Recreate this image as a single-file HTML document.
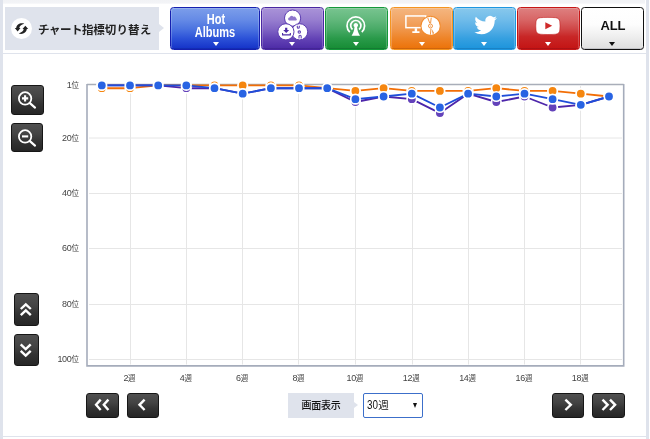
<!DOCTYPE html>
<html lang="ja">
<head>
<meta charset="utf-8">
<title>チャート指標切り替え</title>
<style>
*{box-sizing:border-box;margin:0;padding:0}
html,body{width:650px;height:439px;overflow:hidden;background:#fff}
body{position:relative;font-family:"Liberation Sans","Noto Sans CJK JP",sans-serif;color:#222}
.abs{position:absolute}
.edge{background:#dfe3ec}
#topstrip{left:3px;top:0;width:642px;height:4px;background:linear-gradient(#f1f2f5 0,#f3f4f7 75%,#fbfbfc 100%)}
#label{left:5px;top:7px;width:154px;height:43px;background:#dfe3ec}
#label:after{content:"";position:absolute;left:154px;top:16.5px;border-left:5px solid #dfe3ec;border-top:4.5px solid transparent;border-bottom:4.5px solid transparent}
#label .circ{position:absolute;left:6px;top:11px;width:21px;height:21px;border-radius:50%;background:#fff}
#label .txt{position:absolute;left:33px;top:13.5px;font-size:11.5px;font-weight:bold;line-height:18px;white-space:nowrap;color:#222;letter-spacing:-0.1px}
.btn{position:absolute;top:7px;height:43px;border-radius:3.500px;border:1px solid;}
.btn:before{content:"";position:absolute;left:0;top:0;right:0;bottom:0;border-radius:2.500px;border:1px solid rgba(255,255,255,.2);border-bottom-color:rgba(0,0,40,.12)}
.btn .tri{position:absolute;left:50%;margin-left:-3.5px;top:34px;width:0;height:0;border-left:3.5px solid transparent;border-right:3.5px solid transparent;border-top:4.5px solid #fff}
.btn svg{position:absolute;left:-1px;top:-1px}
#b1{left:170px;width:89.5px;border-color:#1520b0;background:linear-gradient(#7c9eea 0,#668be6 28%,#4a72e0 52%,#2c52d8 74%,#1432c8 100%)}
#b2{left:261px;width:63px;border-color:#4a28a2;background:linear-gradient(#a993d8 0,#987fd0 28%,#8064c4 52%,#6444b6 74%,#4c2aa6 100%)}
#b3{left:325px;width:63px;border-color:#14983a;background:linear-gradient(#78c490 0,#62b87c 28%,#48aa66 52%,#2a9a4a 74%,#168c34 100%)}
#b4{left:389.5px;width:63px;border-color:#f59520;background:linear-gradient(#f4b680 0,#f2a666 28%,#f0964a 52%,#ee8428 74%,#ec7208 100%)}
#b5{left:453px;width:63px;border-color:#1e96e0;background:linear-gradient(#88c8ec 0,#70bcea 28%,#56aee6 52%,#36a0e0 74%,#1c94dc 100%)}
#b6{left:517px;width:63px;border-color:#c61616;background:linear-gradient(#de8080 0,#d86666 28%,#d04848 50%,#c82626 70%,#c41414 100%)}
#b7{left:581px;width:63px;border-color:#111;background:linear-gradient(#fff 0,#fdfdfd 40%,#efefef 68%,#dedede 100%)}
#b7 .tri{border-top-color:#111}
#b1 .t{position:absolute;left:0;width:88px;text-align:center;color:#fff;font-weight:bold;font-size:14px;line-height:13px;transform:scaleX(.787);white-space:nowrap}
#b7 .t{position:absolute;left:.3px;width:61px;top:10.200px;letter-spacing:-.2px;text-align:center;color:#111;font-weight:bold;font-size:13px;line-height:15px}
.dk{position:absolute;border-radius:3px;border:1px solid #161616;background:linear-gradient(#505050 0,#434343 38%,#333 64%,#262626 100%)}
.dk svg{position:absolute;left:-1px;top:-1px}
.yl{position:absolute;left:39px;width:40px;text-align:right;font-size:9px;line-height:10px;color:#444;letter-spacing:-.3px;white-space:nowrap}
.yl span,.xl span{font-size:7.500px;letter-spacing:0}
.xl{position:absolute;top:372.800px;width:30px;text-align:center;font-size:9px;line-height:10px;color:#444;letter-spacing:-.3px;white-space:nowrap}
#disp{left:288px;top:393px;width:66px;height:24.5px;background:#dfe3ec;font-size:10px;line-height:26px;text-align:center;color:#111;font-weight:500;letter-spacing:-.2px}
#disp:after{content:"";position:absolute;left:66px;top:8.5px;border-left:4.5px solid #dfe3ec;border-top:3.75px solid transparent;border-bottom:3.75px solid transparent}
#sel{left:363px;top:393px;width:60px;height:24.5px;border:1px solid #3c6fca;border-radius:2px;background:#fff}
#sel .v{position:absolute;left:3.4px;top:2.4px;font-size:13px;line-height:17px;color:#111;transform:scaleX(.76);transform-origin:0 50%;white-space:nowrap}
#sel .k{position:absolute;left:14.2px;top:3px;font-size:10.500px;line-height:17px;color:#111;white-space:nowrap}
#sel .a{position:absolute;left:48.5px;top:9px;width:0;height:0;border-left:2.75px solid transparent;border-right:2.75px solid transparent;border-top:5px solid #111}
</style>
</head>
<body>
<div class="abs edge" style="left:0;top:0;width:3px;height:439px"></div>
<div class="abs edge" style="left:646px;top:0;width:3px;height:439px"></div>
<div class="abs" id="topstrip"></div>
<div class="abs edge" style="left:3px;top:53px;width:643px;height:1px"></div>
<div class="abs edge" style="left:3px;top:436px;width:643px;height:1px"></div>

<div class="abs" id="label">
  <div class="circ"></div>
  <svg class="abs" style="left:6px;top:11px" width="21" height="21" viewBox="0 0 21 21">
    <g fill="#222" transform="translate(10.500,10.600)">
      <path id="ra" d="M-6.700 -.500L-3.850 2.900L-1 -.500L-2.200 -.500C-2.100 -2.400 -.300 -3.900 2.800 -4.900C-1.200 -6.200 -5 -4 -5.300 -.500Z"/>
      <path d="M-6.700 -.500L-3.850 2.900L-1 -.500L-2.200 -.500C-2.100 -2.400 -.300 -3.900 2.800 -4.900C-1.200 -6.200 -5 -4 -5.300 -.500Z" transform="rotate(180)"/>
    </g>
  </svg>
  <div class="txt"><span style="letter-spacing:-.5px">チャート</span>指標<span style="letter-spacing:.2px">切り替え</span></div>
</div>

<div class="btn" id="b1">
  <div class="t" style="top:5.2px;left:.7px">Hot</div>
  <div class="t" style="top:17.85px;left:.3px">Albums</div>
  <div class="tri" style="margin-left:-2px"></div>
</div>
<div class="btn" id="b2"><svg width="63" height="43" viewBox="0 0 63 43">
  <g fill="#fff" stroke="#5a3ab0" stroke-width="1">
    <circle cx="31.600" cy="11.100" r="8.100"/>
    <circle cx="38.600" cy="24.800" r="8.100"/>
    <circle cx="24.900" cy="24.800" r="8.100"/>
  </g>
  <path transform="translate(31.600 13.500) scale(.88) translate(-31.600 -13.400)" d="M27.600 13.400a1.700 1.700 0 0 1 .5-3.300a2.300 2.300 0 0 1 4.200-.9a2 2 0 0 1 3.200 1.600a1.400 1.400 0 0 1 .1 2.600z" fill="#8e76cc"/>
  <path d="M24.100 20.800h2.200v2.200h1.900l-3 2.900l-3-2.900h1.900zM21 26.100h1.100v1.200h6.700v-1.200h1.100v2.400h-8.900z" fill="#4e2ca6"/>
  <g fill="none" stroke="#6242b6" stroke-width="1.100">
    <path d="M36.300 18.800v1.400a1 1 0 0 0 2 0v-1.400"/>
    <circle cx="38.300" cy="25.100" r="1.200"/>
    <path d="M38 31.400v-2a1.100 1.100 0 0 1 2.200 0v2"/>
  </g>
</svg><div class="tri"></div></div>
<div class="btn" id="b3"><svg width="63" height="43" viewBox="0 0 63 43">
  <g fill="none" stroke="#fff" stroke-width="1.700" stroke-linecap="butt">
    <path d="M24.800 25.100A8.800 8.800 0 1 1 36.800 25.100"/>
    <path d="M27.500 22.500A5.100 5.100 0 1 1 34.100 22.500"/>
  </g>
  <path d="M30.800 16a2.250 2.250 0 0 1 1.300 4.100c.2 3.500 1.300 6.100 2.900 8.700h-8.400c1.600-2.600 2.700-5.200 2.900-8.700a2.250 2.250 0 0 1 1.300-4.100z" fill="#fff"/>
</svg><div class="tri"></div></div>
<div class="btn" id="b4"><svg width="63" height="43" viewBox="0 0 63 43">
  <rect x="15.900" y="8.950" width="19.800" height="11.700" fill="none" stroke="#fff" stroke-width="1.500"/>
  <path d="M24.700 21.300h2.400v3h2.400v1.600h-7.200v-1.600h2.400z" fill="#fff"/>
  <circle cx="40.600" cy="18.900" r="9.700" fill="#fff" stroke="#f28a2a" stroke-width="1.100"/>
  <g fill="none" stroke="#ef8a30" stroke-width=".9" stroke-linecap="round">
    <path d="M37.900 11.300L39.700 15.900M41.200 11L40.600 15.900"/>
    <path d="M40.900 22.200L40.400 27.400"/>
  </g>
  <path d="M41.700 22.100L44.200 26.300L42.700 26.900Z" fill="#ef8a30"/>
  <circle cx="40.500" cy="19" r="2" fill="none" stroke="#ef8a30" stroke-width=".9"/>
  <circle cx="40.500" cy="19" r=".6" fill="#ef8a30"/>
</svg><div class="tri" style="margin-left:-2.200px"></div></div>
<div class="btn" id="b5"><svg width="63" height="43" viewBox="0 0 63 43">
  <path transform="translate(21.300 6.720) scale(.946)" fill="#fff" d="M23.953 4.570a10 10 0 0 1-2.825.775a4.958 4.958 0 0 0 2.163-2.723c-.951.555-2.005.959-3.127 1.184a4.920 4.920 0 0 0-8.384 4.482C7.690 8.095 4.067 6.130 1.640 3.162a4.822 4.822 0 0 0-.666 2.475c0 1.710.870 3.213 2.188 4.096a4.904 4.904 0 0 1-2.228-.616v.060a4.923 4.923 0 0 0 3.946 4.827a4.996 4.996 0 0 1-2.212.085a4.936 4.936 0 0 0 4.604 3.417a9.867 9.867 0 0 1-6.102 2.105c-.390 0-.779-.023-1.170-.067a13.995 13.995 0 0 0 7.557 2.209c9.053 0 13.998-7.496 13.998-13.985c0-.210 0-.420-.015-.630A9.935 9.935 0 0 0 24 4.590z"/>
</svg><div class="tri"></div></div>
<div class="btn" id="b6"><svg width="63" height="43" viewBox="0 0 63 43">
  <path d="M23.300 10.700C27 10.300 34.800 10.300 38.500 10.700C41.300 11 42.500 12.200 42.800 14.800C43.100 17.400 43.100 20.500 42.800 23.100C42.500 25.700 41.300 26.900 38.500 27.200C34.800 27.600 27 27.600 23.300 27.200C20.500 26.900 19.300 25.700 19 23.100C18.700 20.500 18.700 17.400 19 14.800C19.300 12.200 20.500 11 23.300 10.700Z" fill="#fff" stroke="#c01818" stroke-opacity=".55" stroke-width="1"/>
  <path d="M28.300 15.300L35.200 18.800L28.300 22.200Z" fill="#cf2a2a"/>
</svg><div class="tri"></div></div>
<div class="btn" id="b7"><div class="t">ALL</div><div class="tri"></div></div>

<!-- side buttons -->
<div class="dk" style="left:11px;top:84.600px;width:32.500px;height:30px"><svg width="32" height="30" viewBox="0 0 32 30"><circle cx="14.100" cy="13.400" r="6.200" fill="none" stroke="#fff" stroke-width="1.800"/><path d="M18.900 18.100L24 22.600" stroke="#fff" stroke-width="2.200" stroke-linecap="round"/><path d="M11 13.4h6.200M14.100 10.300v6.200" stroke="#fff" stroke-width="2.100" fill="none"/></svg></div>
<div class="dk" style="left:11px;top:122.500px;width:32px;height:29.100px"><svg width="32" height="30" viewBox="0 0 32 30"><circle cx="14.100" cy="13.400" r="6.200" fill="none" stroke="#fff" stroke-width="1.800"/><path d="M18.900 18.100L24 22.600" stroke="#fff" stroke-width="2.200" stroke-linecap="round"/><path d="M11 13.400h6.200" stroke="#fff" stroke-width="2.100" fill="none"/></svg></div>
<div class="dk" style="left:14px;top:293px;width:25px;height:33px"><svg width="25" height="33" viewBox="0 0 25 33"><path d="M6.800 16L11.800 11.300L16.800 16M6.800 22.200L11.800 17.500L16.800 22.200" fill="none" stroke="#fff" stroke-width="2.400" stroke-linejoin="miter"/></svg></div>
<div class="dk" style="left:14px;top:334px;width:25px;height:32px"><svg width="25" height="32" viewBox="0 0 25 32"><path d="M6.700 10.400L11.700 15.200L16.700 10.400M6.700 16.800L11.700 21.600L16.700 16.800" fill="none" stroke="#fff" stroke-width="2.400" stroke-linejoin="miter"/></svg></div>
<div class="dk" style="left:86px;top:393px;width:33px;height:24.5px"><svg width="33" height="25" viewBox="0 0 33 25"><path d="M14.7 6.6L10.1 11.8L14.7 17M22.4 6.6L17.8 11.8L22.4 17" fill="none" stroke="#fff" stroke-width="2.400" stroke-linejoin="miter"/></svg></div>
<div class="dk" style="left:127px;top:393px;width:32px;height:24.5px"><svg width="32" height="25" viewBox="0 0 32 25"><path d="M17.6 6.6L12.5 11.8L17.6 17" fill="none" stroke="#fff" stroke-width="2.400" stroke-linejoin="miter"/></svg></div>
<div class="dk" style="left:552px;top:393px;width:32px;height:24.5px"><svg width="32" height="25" viewBox="0 0 32 25"><path d="M13.4 6.6L18.8 11.8L13.4 17" fill="none" stroke="#fff" stroke-width="2.400" stroke-linejoin="miter"/></svg></div>
<div class="dk" style="left:592px;top:393px;width:33px;height:24.5px"><svg width="33" height="25" viewBox="0 0 33 25"><path d="M10.5 6.6L15.6 11.8L10.5 17M18 6.6L23.1 11.8L18 17" fill="none" stroke="#fff" stroke-width="2.400" stroke-linejoin="miter"/></svg></div>

<div class="abs" id="disp">画面表示</div>
<div class="abs" id="sel"><div class="v">30</div><div class="k">週</div><div class="a"></div></div>

<!--CHART-->
<svg class="abs" style="left:0;top:60px" width="650" height="330" viewBox="0 60 650 330">
<path d="M89 138.0H622M89 193.5H622M89 248.5H622M89 304.5H622M89 359.5H622M130.5 86V364.5M186.5 86V364.5M242.5 86V364.5M298.5 86V364.5M355.5 86V364.5M412.5 86V364.5M468.5 86V364.5M524.5 86V364.5M580.5 86V364.5" stroke="#e6e6e6" stroke-width="1" fill="none"/>
<path d="M87 84.5H623.7" stroke="#a9aeb9" stroke-width="1.3" fill="none"/>
<path d="M87 84.0V365.9H623.7V84.0" stroke="#a5acbb" stroke-width="1.6" fill="none"/>
<polyline points="101.8,88.2 130.0,88.2 158.2,85.4 186.3,85.4 214.5,85.4 242.7,85.4 270.9,85.4 299.0,85.4 327.2,88.2 355.4,90.9 383.6,88.2 411.8,90.9 439.9,90.9 468.1,90.9 496.3,88.2 524.5,90.9 552.6,90.9 580.8,93.7 609.0,96.5" fill="none" stroke="#f26e06" stroke-width="1.85" stroke-linejoin="round"/>
<g fill="#f5860f" stroke="#fff" stroke-width="1.7">
<circle cx="101.8" cy="88.2" r="4.75"/>
<circle cx="130.0" cy="88.2" r="4.75"/>
<circle cx="158.2" cy="85.4" r="4.75"/>
<circle cx="186.3" cy="85.4" r="4.75"/>
<circle cx="214.5" cy="85.4" r="4.75"/>
<circle cx="242.7" cy="85.4" r="4.75"/>
<circle cx="270.9" cy="85.4" r="4.75"/>
<circle cx="299.0" cy="85.4" r="4.75"/>
<circle cx="327.2" cy="88.2" r="4.75"/>
<circle cx="355.4" cy="90.9" r="4.75"/>
<circle cx="383.6" cy="88.2" r="4.75"/>
<circle cx="411.8" cy="90.9" r="4.75"/>
<circle cx="439.9" cy="90.9" r="4.75"/>
<circle cx="468.1" cy="90.9" r="4.75"/>
<circle cx="496.3" cy="88.2" r="4.75"/>
<circle cx="524.5" cy="90.9" r="4.75"/>
<circle cx="552.6" cy="90.9" r="4.75"/>
<circle cx="580.8" cy="93.7" r="4.75"/>
<circle cx="609.0" cy="96.5" r="4.75"/>
</g>
<polyline points="101.8,85.4 130.0,85.4 158.2,85.4 186.3,88.2 214.5,88.2 242.7,93.7 270.9,88.2 299.0,88.2 327.2,88.2 355.4,102.0 383.6,96.5 411.8,99.2 439.9,113.1 468.1,93.7 496.3,102.0 524.5,96.5 552.6,107.5 580.8,104.8 609.0,96.5" fill="none" stroke="#4d26aa" stroke-width="1.85" stroke-linejoin="round"/>
<g fill="#6342ba" stroke="#fff" stroke-width="1.7">
<circle cx="101.8" cy="85.4" r="4.75"/>
<circle cx="130.0" cy="85.4" r="4.75"/>
<circle cx="158.2" cy="85.4" r="4.75"/>
<circle cx="186.3" cy="88.2" r="4.75"/>
<circle cx="214.5" cy="88.2" r="4.75"/>
<circle cx="242.7" cy="93.7" r="4.75"/>
<circle cx="270.9" cy="88.2" r="4.75"/>
<circle cx="299.0" cy="88.2" r="4.75"/>
<circle cx="327.2" cy="88.2" r="4.75"/>
<circle cx="355.4" cy="102.0" r="4.75"/>
<circle cx="383.6" cy="96.5" r="4.75"/>
<circle cx="411.8" cy="99.2" r="4.75"/>
<circle cx="439.9" cy="113.1" r="4.75"/>
<circle cx="468.1" cy="93.7" r="4.75"/>
<circle cx="496.3" cy="102.0" r="4.75"/>
<circle cx="524.5" cy="96.5" r="4.75"/>
<circle cx="552.6" cy="107.5" r="4.75"/>
<circle cx="580.8" cy="104.8" r="4.75"/>
<circle cx="609.0" cy="96.5" r="4.75"/>
</g>
<polyline points="101.8,85.4 130.0,85.4 158.2,85.4 186.3,85.4 214.5,88.2 242.7,93.7 270.9,88.2 299.0,88.2 327.2,88.2 355.4,99.2 383.6,96.5 411.8,93.7 439.9,107.5 468.1,93.7 496.3,96.5 524.5,93.7 552.6,99.2 580.8,104.8 609.0,96.5" fill="none" stroke="#1f4ed9" stroke-width="1.85" stroke-linejoin="round"/>
<g fill="#2863e3" stroke="#fff" stroke-width="1.7">
<circle cx="101.8" cy="85.4" r="4.75"/>
<circle cx="130.0" cy="85.4" r="4.75"/>
<circle cx="158.2" cy="85.4" r="4.75"/>
<circle cx="186.3" cy="85.4" r="4.75"/>
<circle cx="214.5" cy="88.2" r="4.75"/>
<circle cx="242.7" cy="93.7" r="4.75"/>
<circle cx="270.9" cy="88.2" r="4.75"/>
<circle cx="299.0" cy="88.2" r="4.75"/>
<circle cx="327.2" cy="88.2" r="4.75"/>
<circle cx="355.4" cy="99.2" r="4.75"/>
<circle cx="383.6" cy="96.5" r="4.75"/>
<circle cx="411.8" cy="93.7" r="4.75"/>
<circle cx="439.9" cy="107.5" r="4.75"/>
<circle cx="468.1" cy="93.7" r="4.75"/>
<circle cx="496.3" cy="96.5" r="4.75"/>
<circle cx="524.5" cy="93.7" r="4.75"/>
<circle cx="552.6" cy="99.2" r="4.75"/>
<circle cx="580.8" cy="104.8" r="4.75"/>
<circle cx="609.0" cy="96.5" r="4.75"/>
</g>
</svg>
<div class="yl" style="top:80.2px">1<span>位</span></div>
<div class="yl" style="top:132.8px">20<span>位</span></div>
<div class="yl" style="top:188.1px">40<span>位</span></div>
<div class="yl" style="top:243.4px">60<span>位</span></div>
<div class="yl" style="top:298.7px">80<span>位</span></div>
<div class="yl" style="top:354.0px">100<span>位</span></div>
<div class="xl" style="left:114.5px">2<span>週</span></div>
<div class="xl" style="left:170.8px">4<span>週</span></div>
<div class="xl" style="left:227.2px">6<span>週</span></div>
<div class="xl" style="left:283.5px">8<span>週</span></div>
<div class="xl" style="left:339.9px">10<span>週</span></div>
<div class="xl" style="left:396.3px">12<span>週</span></div>
<div class="xl" style="left:452.6px">14<span>週</span></div>
<div class="xl" style="left:509.0px">16<span>週</span></div>
<div class="xl" style="left:565.3px">18<span>週</span></div>
<!--/CHART-->
</body>
</html>
